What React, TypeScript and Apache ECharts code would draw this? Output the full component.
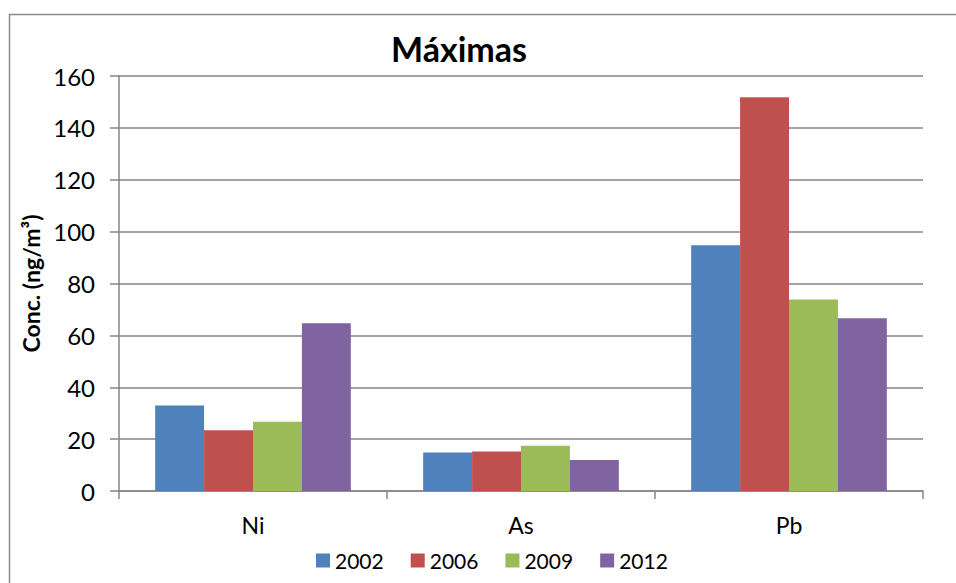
import React, { useEffect, useRef } from "react";
import * as echarts from "echarts";

const categories = ["Ni", "As", "Pb"];
const years = ["2002", "2006", "2009", "2012"];
const values2002 = [33, 14.8, 94.7];
const values2006 = [23.4, 15.2, 151.8];
const values2009 = [26.7, 17.4, 73.8];
const values2012 = [64.7, 12, 66.6];
const colors = ["#4F81BD", "#C0504D", "#9BBB59", "#8064A2"];
const yTicks = { min: 0, max: 160, interval: 20 };

const FONT = "Lato, 'Open Sans', sans-serif";

export default function App() {
  const ref = useRef<HTMLDivElement>(null);

  useEffect(() => {
    if (!ref.current) return;
    const chart = echarts.init(ref.current, undefined, { renderer: "svg" });
    const seriesData = [values2002, values2006, values2009, values2012];
    chart.setOption({
      animation: false,
      backgroundColor: "#ffffff",
      textStyle: { fontFamily: FONT },
      title: {
        text: "Máximas",
        left: 386,
        top: 26,
        textStyle: { fontFamily: FONT, fontSize: 34, fontWeight: "bold", color: "#000" },
      },
      graphic: [
        {
          type: "rect",
          shape: { x: 9.5, y: 14.5, width: 980, height: 620 },
          style: { fill: "none", stroke: "#8a8a8a", lineWidth: 1.5 },
          silent: true,
        },
      ],
      legend: {
        data: years,
        top: 545,
        left: 311,
        itemWidth: 14,
        itemHeight: 14,
        itemGap: 27,
        icon: "rect",
        textStyle: { fontFamily: FONT, fontSize: 21, color: "#000" },
      },
      grid: { left: 119, right: 33, top: 76, bottom: 92 },
      xAxis: {
        type: "category",
        data: categories,
        axisLine: { lineStyle: { color: "#868686", width: 1.5 } },
        axisTick: { show: true, length: 8, lineStyle: { color: "#868686", width: 1.5 } },
        axisLabel: { fontFamily: FONT, fontSize: 23, color: "#000", margin: 22 },
      },
      yAxis: {
        type: "value",
        min: yTicks.min,
        max: yTicks.max,
        interval: yTicks.interval,
        name: "Conc. (ng/m³)",
        nameLocation: "middle",
        nameGap: 66,
        nameTextStyle: { fontFamily: FONT, fontSize: 23, fontWeight: "bold", color: "#000" },
        axisLine: { show: true, lineStyle: { color: "#868686", width: 1.5 } },
        axisTick: { show: true, length: 9, lineStyle: { color: "#868686", width: 1.5 } },
        axisLabel: { fontFamily: FONT, fontSize: 24, color: "#000", margin: 24 },
        splitLine: { lineStyle: { color: "#868686", width: 1.5 } },
      },
      series: years.map((y, i) => ({
        name: y,
        type: "bar",
        data: seriesData[i],
        barGap: "0%",
        barCategoryGap: "27%",
        itemStyle: { color: colors[i] },
      })),
    });
    return () => chart.dispose();
  }, []);

  return (
    <div
      ref={ref}
      style={{ position: "fixed", left: 0, top: 0, width: 956, height: 583 }}
    />
  );
}
